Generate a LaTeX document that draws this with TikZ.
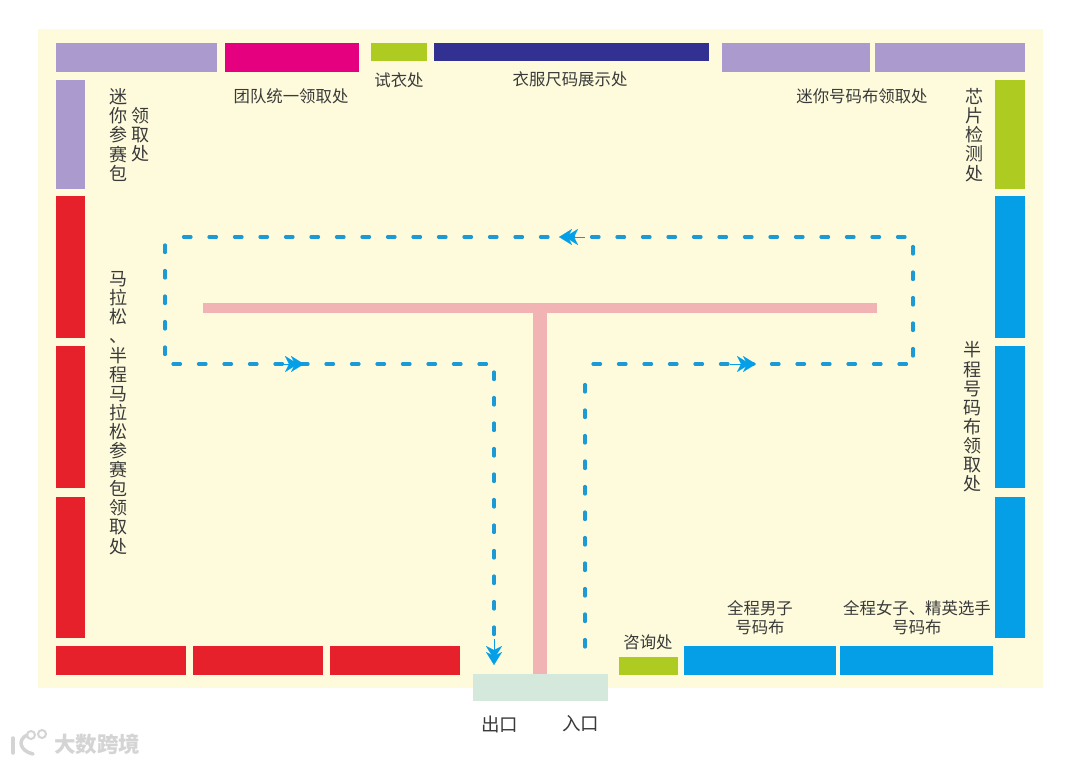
\documentclass[tikz,border=0pt]{standalone}
\usepackage{fontspec}
\usetikzlibrary{arrows.meta}
\setmainfont{Noto Sans CJK SC}
\definecolor{pagebg}{HTML}{FEFBDC}
\definecolor{lilac}{HTML}{AB9ACD}
\definecolor{magentabar}{HTML}{E4007F}
\definecolor{limebar}{HTML}{AECB22}
\definecolor{navybar}{HTML}{323090}
\definecolor{redbar}{HTML}{E6212C}
\definecolor{bluebar}{HTML}{059FE8}
\definecolor{pinkbar}{HTML}{F1B3B3}
\definecolor{doorbar}{HTML}{D4E8DC}
\definecolor{flow}{HTML}{1C9AD6}
\definecolor{label}{HTML}{3A3A3A}
\definecolor{wmark}{HTML}{D4D4D4}
\tikzset{
  bar/.style={draw=none,inner sep=0pt,outer sep=0pt,anchor=north west},
  txt/.style={text=label,font=\fontsize{16.4}{19}\selectfont,inner sep=0pt,align=center},
  vtxt/.style={text=label,font=\fontsize{18}{19.1}\selectfont,inner sep=0pt,align=center},
  doortxt/.style={text=label,font=\fontsize{18.5}{20}\selectfont,inner sep=0pt},
  flowline/.style={draw=flow,line width=3.2pt,line cap=round,dash pattern=on 7.5pt off 18pt,shorten <=8pt,shorten >=3pt},
  chev/.style={bluebar,line width=0.1pt,-{Stealth[inset=4pt,length=13pt,width=16pt,sep=-7pt]Stealth[inset=4pt,length=13pt,width=16pt,sep=-7pt]}},
}
\newcommand{\bx}[6]{\node[bar,fill=#6,minimum width={(#4-#2)*1pt},minimum height={(#5-#3)*1pt}] (#1) at (#2,#3) {};}
\begin{document}
\begin{tikzpicture}[x=1pt,y=-1pt]
\useasboundingbox (0,0) rectangle (1080,764);
\fill[white] (0,0) rectangle (1080,764);
\bx{paper}{38}{29}{1043}{688}{pagebg}
% top row
\bx{t1}{56}{43}{217}{72}{lilac}
\bx{t2}{225}{43}{359}{72}{magentabar}
\bx{t3}{371}{43}{427}{61}{limebar}
\bx{t4}{434}{43}{709}{61}{navybar}
\bx{t5}{722}{43}{870}{72}{lilac}
\bx{t6}{875}{43}{1025}{72}{lilac}
% left column
\bx{l1}{56}{80}{85}{189}{lilac}
\bx{l2}{56}{196}{85}{338}{redbar}
\bx{l3}{56}{346}{85}{488}{redbar}
\bx{l4}{56}{497}{85}{638}{redbar}
% right column
\bx{r1}{995}{80}{1025}{189}{limebar}
\bx{r2}{995}{196}{1025}{338}{bluebar}
\bx{r3}{995}{346}{1025}{488}{bluebar}
\bx{r4}{995}{497}{1025}{638}{bluebar}
% bottom row
\bx{b1}{56}{646}{186}{675}{redbar}
\bx{b2}{193}{646}{323}{675}{redbar}
\bx{b3}{330}{646}{460}{675}{redbar}
\bx{b4}{619}{657}{678}{675}{limebar}
\bx{b5}{684}{646}{836}{675}{bluebar}
\bx{b6}{840}{646}{993}{675}{bluebar}
% T barrier and door
\bx{stem}{533}{312}{547}{674}{pinkbar}
\bx{tbar}{203}{303}{877}{313}{pinkbar}
\bx{door}{473}{674}{608}{701}{doorbar}
% flow
\coordinate (f0) at (585,655);
\coordinate (f1) at (585,364);
\coordinate (f2) at (913,364);
\coordinate (f3) at (913,237);
\coordinate (f4) at (165,237);
\coordinate (f5) at (165,364);
\coordinate (f6) at (494,364);
\coordinate (f7) at (494,640);
\draw[flowline] (f0) -- (f1);
\draw[flowline] (f1) -- (f2);
\draw[flowline] (f2) -- (f3);
\draw[flowline] (f3) -- (f4);
\draw[flowline] (f4) -- (f5);
\draw[flowline] (f5) -- (f6);
\draw[flowline] (f6) -- (f7);
\coordinate (a1s) at (730,364); \coordinate (a1e) at (749,364);
\coordinate (a2s) at (585,237); \coordinate (a2e) at (566,237);
\coordinate (a3s) at (278,364); \coordinate (a3e) at (297,364);
\coordinate (a4s) at (494,639); \coordinate (a4e) at (494,658);
\draw[chev] (a1s) -- (a1e);
\draw[chev] (a2s) -- (a2e);
\draw[chev] (a3s) -- (a3e);
\draw[chev] (a4s) -- (a4e);
% labels
\node[txt] (n1) at (291,96) {团队统一领取处};
\node[txt] (n2) at (399,80) {试衣处};
\node[txt] (n3) at (570,79) {衣服尺码展示处};
\node[txt] (n4) at (862,96) {迷你号码布领取处};
\node[vtxt] (n5) at (118.5,135) {迷\\你\\参\\赛\\包};
\node[vtxt] (n6) at (140.5,134.5) {领\\取\\处};
\node[vtxt] (n7) at (118.5,413) {马\\拉\\松\\、\\半\\程\\马\\拉\\松\\参\\赛\\包\\领\\取\\处};
\node[vtxt] (n8) at (974,135) {芯\\片\\检\\测\\处};
\node[vtxt] (n9) at (972,417) {半\\程\\号\\码\\布\\领\\取\\处};
\node[txt] (n10) at (648,642) {咨询处};
\node[txt] (n11) at (760,618) {全程男子\\号码布};
\node[txt] (n12) at (917,618) {全程女子、精英选手\\号码布};
\node[doortxt] (n13) at (499.5,724) {出口};
\node[doortxt] (n14) at (580.5,724) {入口};
% watermark
\draw[wmark,line width=3.5pt,line cap=round] (13,738) -- (13,753);
\draw[wmark,line width=3.5pt,line cap=round] (27,735) .. controls (17,740) and (20,751) .. (33,754);
\draw[wmark,line width=2pt] (31,735) circle (4);
\draw[wmark,line width=2pt] (42,734) circle (4);
\node[text=wmark,font=\fontsize{21.5}{24}\selectfont\bfseries,inner sep=0pt] (n15) at (97,744) {大数跨境};
\end{tikzpicture}
\end{document}
